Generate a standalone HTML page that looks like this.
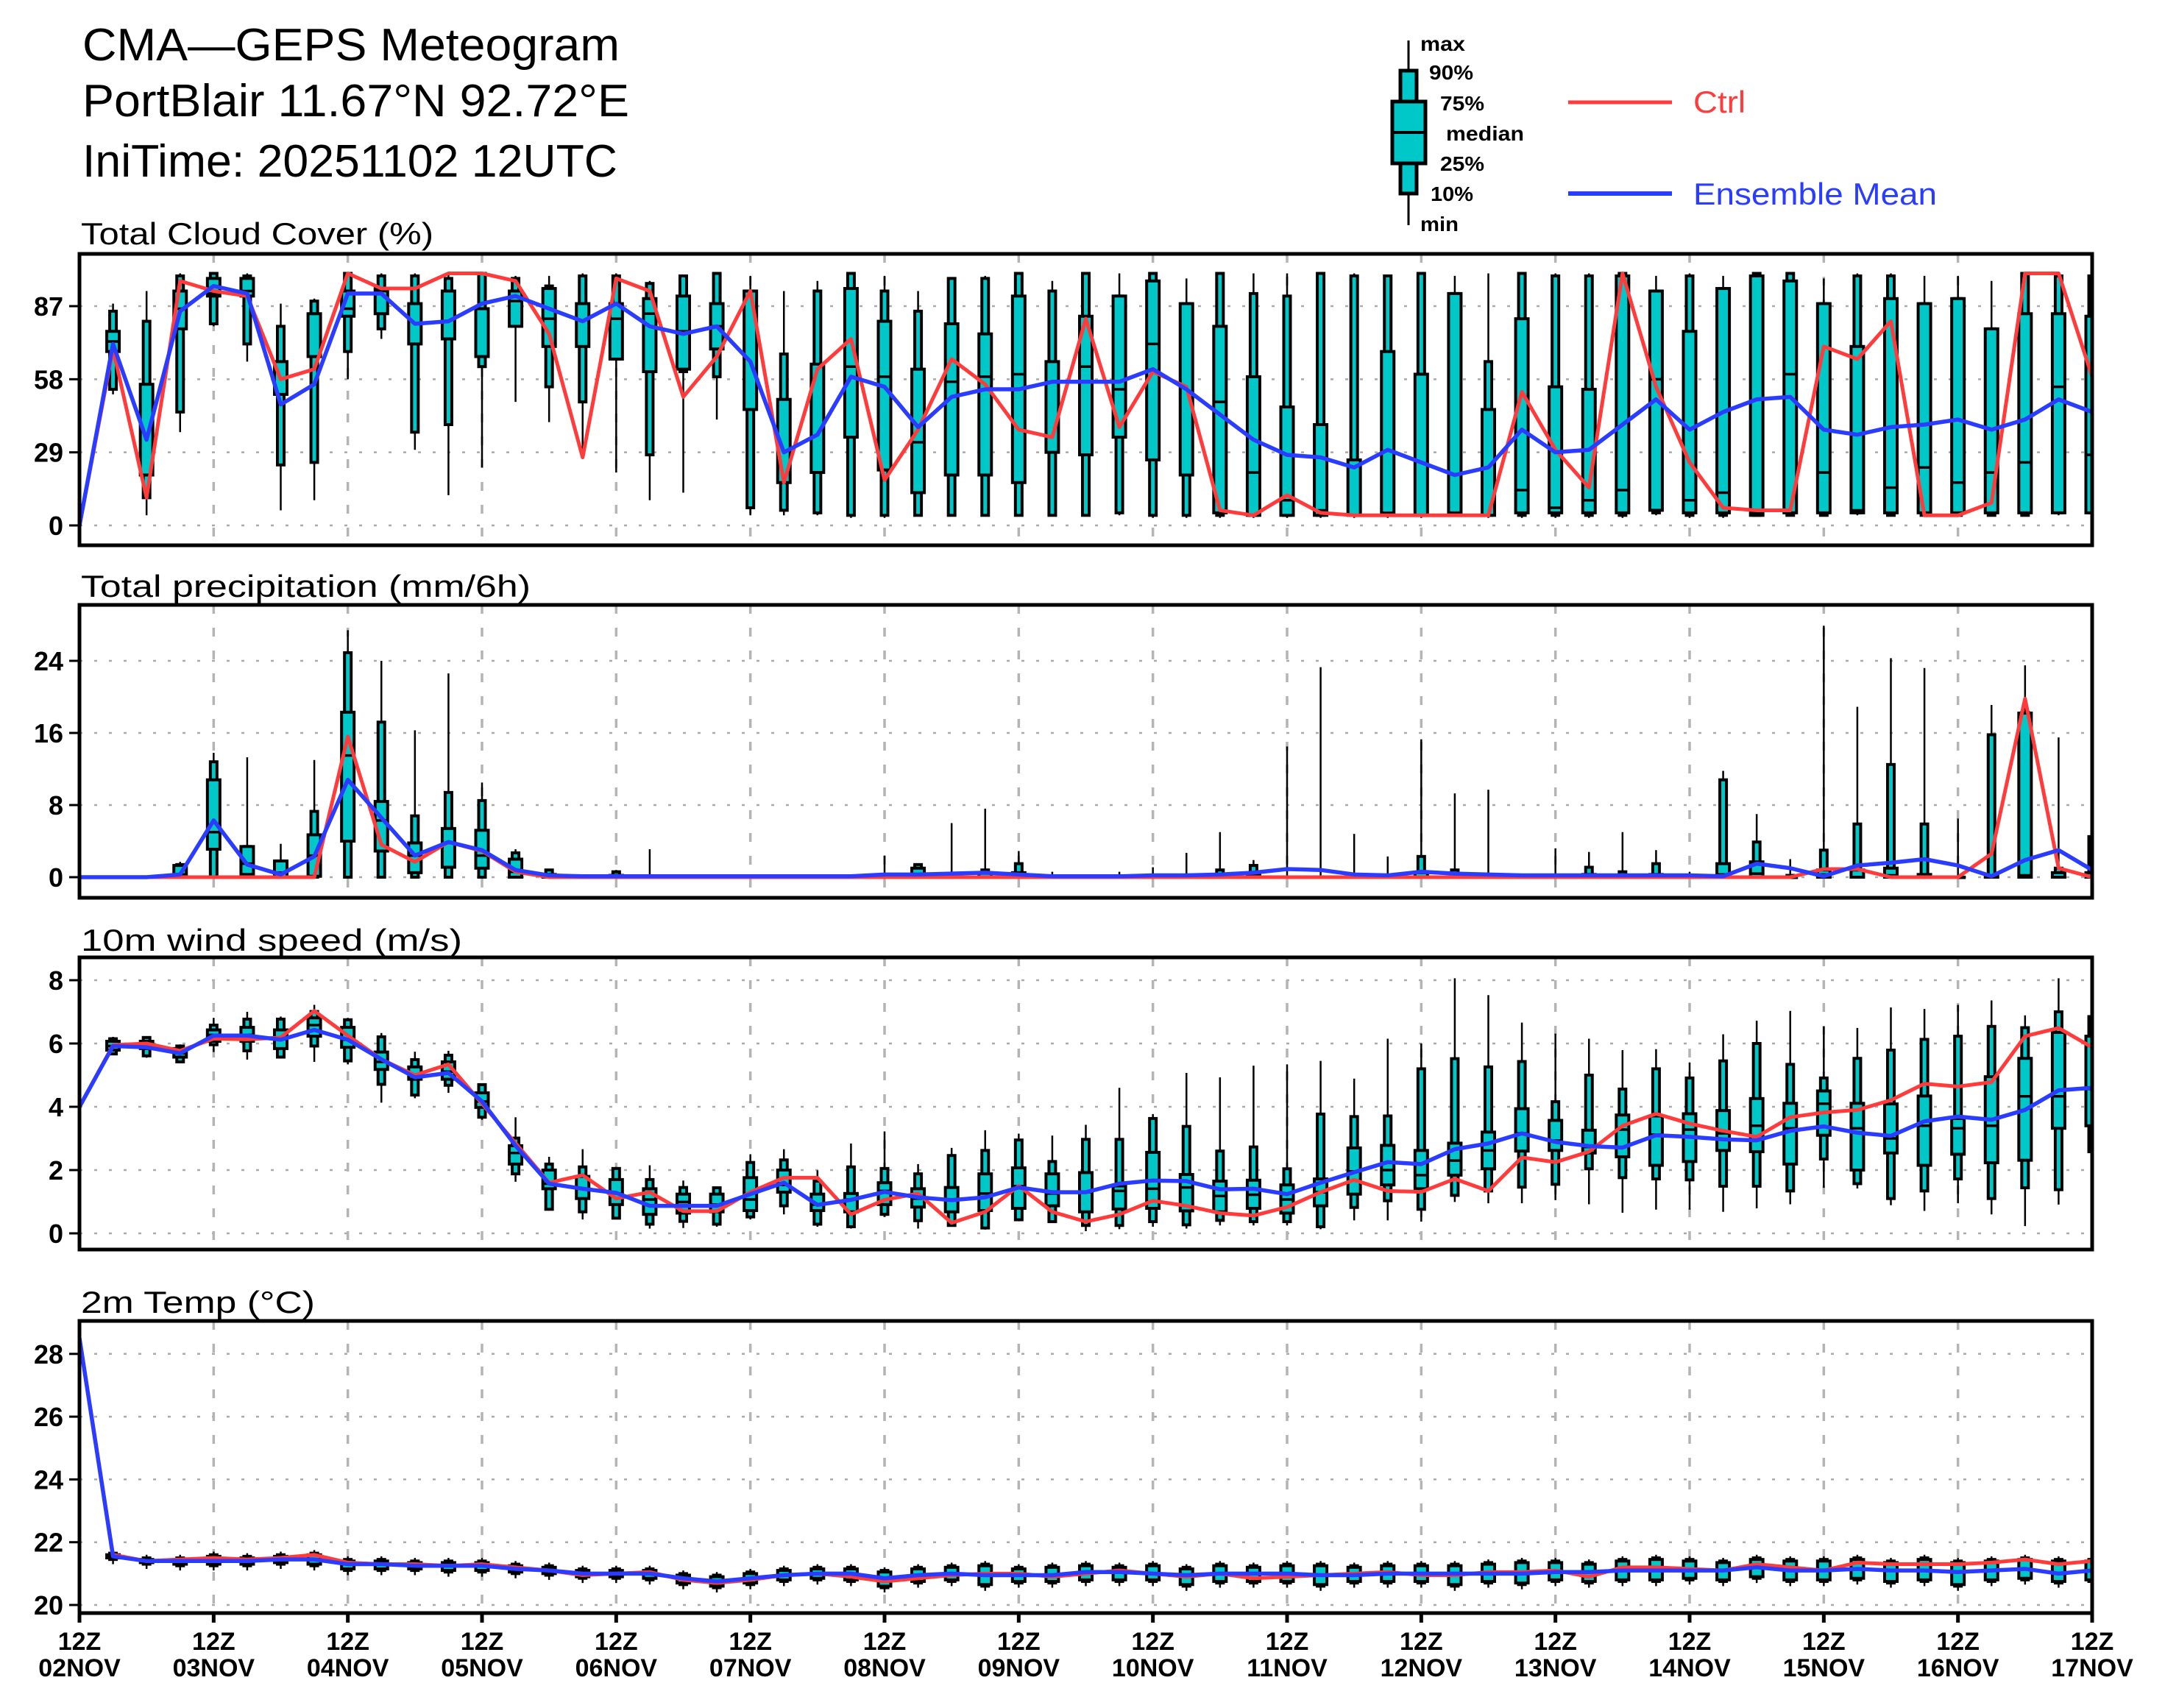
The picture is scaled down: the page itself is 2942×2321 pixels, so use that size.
<!DOCTYPE html>
<html><head><meta charset="utf-8">
<style>
html,body{margin:0;padding:0;background:#fff;}
svg{display:block;font-family:"Liberation Sans",sans-serif;}
.tk{font-weight:bold;font-size:36px;text-anchor:end;}
.xl{font-weight:bold;font-size:34px;text-anchor:middle;}
</style></head><body>
<svg id="chart" width="2942" height="2321" viewBox="0 0 2942 2321" xmlns="http://www.w3.org/2000/svg">
<rect x="0" y="0" width="2942" height="2321" fill="#fff"/>
<g>
<text x="112" y="82" font-size="62" textLength="730" lengthAdjust="spacingAndGlyphs">CMA—GEPS Meteogram</text>
<text x="112" y="158" font-size="62" textLength="743" lengthAdjust="spacingAndGlyphs">PortBlair 11.67°N 92.72°E</text>
<text x="112" y="240" font-size="62" textLength="727" lengthAdjust="spacingAndGlyphs">IniTime: 20251102 12UTC</text>
</g>
<g>
<line x1="1914" y1="55" x2="1914" y2="306" stroke="#000" stroke-width="3"/>
<rect x="1903" y="96" width="22" height="167" fill="#00c8c8" stroke="#000" stroke-width="5"/>
<rect x="1892" y="138" width="45" height="84" fill="#00c8c8" stroke="#000" stroke-width="5"/>
<line x1="1892" y1="180" x2="1937" y2="180" stroke="#000" stroke-width="4"/>
<g font-weight="bold" font-size="28">
<text x="1930" y="69" textLength="61" lengthAdjust="spacingAndGlyphs">max</text>
<text x="1942" y="108" textLength="60" lengthAdjust="spacingAndGlyphs">90%</text>
<text x="1957" y="150" textLength="60" lengthAdjust="spacingAndGlyphs">75%</text>
<text x="1965" y="191" textLength="106" lengthAdjust="spacingAndGlyphs">median</text>
<text x="1957" y="232" textLength="60" lengthAdjust="spacingAndGlyphs">25%</text>
<text x="1944" y="273" textLength="58" lengthAdjust="spacingAndGlyphs">10%</text>
<text x="1930" y="314" textLength="52" lengthAdjust="spacingAndGlyphs">min</text>
</g>
<line x1="2131" y1="139" x2="2272" y2="139" stroke="#ff3b3b" stroke-width="5"/>
<text x="2301" y="153" font-size="42" fill="#ff3b3b" textLength="71" lengthAdjust="spacingAndGlyphs">Ctrl</text>
<line x1="2131" y1="263" x2="2272" y2="263" stroke="#2a3cff" stroke-width="6"/>
<text x="2301" y="278" font-size="42" fill="#2a3cff" textLength="331" lengthAdjust="spacingAndGlyphs">Ensemble Mean</text>
</g>
<g id="plots"></g>
</svg>
<script>
// ---------- data ----------
const dayLabels = ["02NOV","03NOV","04NOV","05NOV","06NOV","07NOV","08NOV","09NOV","10NOV","11NOV","12NOV","13NOV","14NOV","15NOV","16NOV","17NOV"];
const cloudTicks = [0,29,58,87];
const precipTicks = [0,8,16,24];
const windTicks = [0,2,4,6,8];
const tempTicks = [20,22,24,26,28];

const cloudCtrl = [0,70,11,97,93,91,58,62,100,94,94,100,100,97,76,27,98,93,51,67,93,17,62,74,18,38,66,56,38,35,82,39,61,55,6,4,12,5,4,4,4,4,4,53,30,15,100,55,25,7,6,6,71,66,81,4,4,9,100,100,59];
const cloudMean = [0,72,34,85,95,92,48,56,92,92,80,81,88,91,86,81,88,79,76,79,65,29,36,59,55,39,51,54,54,57,57,57,62,54,44,34,28,27,23,30,25,20,23,38,29,30,40,50,38,45,50,51,38,36,39,40,42,38,42,50,45];
const cloudBox = [[0,0,0,0,0,0,0],[52,54,69,73,77,85,88],[4,11,20,20,56,81,93],[37,45,78,86,93,99,100],[79,80,91,92,98,100,100],[65,72,91,93,98,99,100],[6,24,52,52,65,79,88],[10,25,67,67,84,89,90],[58,69,83,86,93,100,100],[74,78,84,93,94,99,100],[30,37,72,88,88,99,100],[12,40,74,93,93,98,100],[23,63,67,86,86,100,100],[49,79,79,89,93,98,99],[41,55,71,82,94,95,99],[27,49,71,88,88,99,100],[21,66,66,82,88,99,100],[10,28,61,84,90,96,97],[13,61,62,77,91,99,99],[42,59,70,79,88,100,100],[4,7,46,46,93,93,99],[4,6,17,17,50,68,93],[4,5,21,21,64,93,97],[3,4,35,63,94,100,100],[3,4,22,59,81,93,99],[4,4,13,33,62,85,93],[4,4,20,57,80,98,98],[4,4,20,59,76,98,99],[4,4,17,60,91,100,100],[4,4,29,65,65,93,97],[4,4,28,63,83,100,100],[4,5,35,54,91,91,100],[3,4,26,72,97,100,100],[3,4,20,20,88,88,98],[3,4,5,49,79,100,100],[3,4,4,21,59,92,100],[3,4,4,10,47,91,100],[3,4,4,6,40,100,100],[3,4,4,26,26,99,100],[3,4,4,5,69,99,99],[3,4,4,4,60,100,100],[4,4,5,5,92,92,99],[3,4,4,4,46,65,100],[3,4,5,14,82,100,100],[3,4,5,7,55,99,100],[3,4,5,10,54,99,100],[3,4,5,14,99,100,100],[4,5,6,58,93,93,99],[3,4,5,10,77,99,100],[3,4,5,13,94,94,99],[4,4,4,5,99,100,100],[4,4,5,60,97,100,100],[4,4,5,21,88,88,98],[4,5,5,6,71,99,100],[4,4,5,15,90,99,100],[4,4,5,23,88,88,99],[4,4,5,17,90,90,99],[4,4,5,21,78,78,97],[4,4,5,25,84,100,100],[4,5,5,55,84,99,100],[4,5,5,28,83,99,99]];

const precipCtrl = [0,0,0,0,0,0,0,0,15.6,3.6,1.7,3.9,2.9,0.6,0,0,0,0,0,0,0,0,0,0,0,0,0,0,0,0,0,0,0,0,0,0,0,0,0,0,0,0,0,0,0,0,0,0,0,0,0,0,0.9,0.9,0,0,0,2.6,19.8,1,0];
const precipMean = [0,0,0,0.3,6.3,1.4,0.3,2.3,10.8,6.6,2.4,3.9,3,0.8,0.2,0.1,0.1,0.1,0.1,0.1,0.1,0.1,0.1,0.1,0.3,0.3,0.4,0.5,0.3,0.1,0.1,0.1,0.2,0.2,0.3,0.5,0.9,0.8,0.3,0.2,0.6,0.4,0.3,0.2,0.2,0.2,0.2,0.2,0.2,0.1,1.5,1,0.1,1.3,1.6,2,1.3,0.1,1.9,3,0.8];
const precipBox = [[0,0,0,0,0,0,0],[0,0,0,0,0,0,0],[0,0,0,0,0,0,0],[0,0,0,0.3,1.3,1.4,1.7],[0,0,3.1,5,10.8,12.8,13.8],[0,0,0.3,1.5,3.4,3.4,13.3],[0,0,0,0.5,1.8,1.8,3.7],[0,0,0.1,2.4,4.7,7.3,13],[0,0,4,13.5,18.3,24.9,27.4],[0,0,2.9,6.3,8.4,17.2,24],[0,0,0.5,2.4,3.8,6.8,16.3],[0,0,1.1,3.8,5.4,9.4,22.6],[0,0,1,2.4,5.2,8.5,10.5],[0,0,0,0.6,2,2.7,3.1],[0,0,0,0,0.3,0.8,0.8],[0,0,0,0,0,0,0],[0,0,0,0,0.2,0.6,0.8],[0,0,0,0,0,0,3.1],[0,0,0,0,0,0,0],[0,0,0,0,0,0,0],[0,0,0,0,0,0,0],[0,0,0,0,0,0,0],[0,0,0,0,0,0,0],[0,0,0,0,0,0,0],[0,0,0,0,0,0,2.4],[0,0,0,0,1,1.4,1.4],[0,0,0,0,0,0.3,6],[0,0,0,0,0.5,0.8,7.6],[0,0,0,0,0.5,1.5,2.9],[0,0,0,0,0,0,0.6],[0,0,0,0,0,0,0],[0,0,0,0,0,0,0.6],[0,0,0,0,0,0,1.1],[0,0,0,0,0,0,2.7],[0,0,0,0,0,0.8,5],[0,0,0,0,0.3,1.3,1.9],[0,0,0,0,0,0,14.5],[0,0,0,0,0,0,23.3],[0,0,0,0,0,0,4.8],[0,0,0,0,0,0,2.3],[0,0,0,0,0.5,2.3,15.3],[0,0,0,0,0,0.8,9.3],[0,0,0,0,0,0,9.7],[0,0,0,0,0,0,0],[0,0,0,0,0,0,3.2],[0,0,0,0,0.3,1.1,2.8],[0,0,0,0,0,0.6,5],[0,0,0,0,0.3,1.5,3],[0,0,0,0,0,0,0.6],[0,0,0,0.3,1.5,10.8,11.8],[0,0,0,0.4,1.7,3.9,7],[0,0,0,0,0,0.2,2],[0,0,0,0.3,0.8,3,27.9],[0,0,0,0,0.8,5.9,18.9],[0,0,0,0.2,1,12.5,24.3],[0,0,0,0,0.3,5.9,23.2],[0,0,0,0,0,0,6.5],[0,0,0,0,0.2,15.8,19.1],[0,0,0,0.2,18.2,18.3,23.5],[0,0,0,0,0.5,1,15.5],[0,0,0,0,0.5,4.5,4.7]];

const windCtrl = [4.0,5.95,6.0,5.77,6.15,6.13,6.19,7.03,6.25,5.5,5.0,5.34,4.1,2.85,1.6,1.84,1.1,1.3,0.7,0.7,1.3,1.76,1.76,0.6,1.06,1.26,0.33,0.68,1.5,0.68,0.37,0.6,1.03,0.87,0.64,0.56,0.83,1.3,1.69,1.34,1.31,1.72,1.34,2.4,2.25,2.58,3.4,3.78,3.47,3.24,3.05,3.67,3.82,3.9,4.21,4.73,4.64,4.78,6.23,6.49,5.88];
const windMean = [4.0,5.92,5.88,5.69,6.25,6.25,6.12,6.43,6.12,5.5,4.93,5.07,4.17,2.77,1.57,1.41,1.28,0.87,0.87,0.87,1.24,1.6,0.9,1.06,1.31,1.14,1.05,1.14,1.45,1.3,1.3,1.57,1.67,1.65,1.39,1.41,1.24,1.6,1.93,2.25,2.19,2.66,2.84,3.16,2.89,2.76,2.71,3.1,3.05,2.97,2.94,3.24,3.38,3.18,3.08,3.54,3.69,3.59,3.9,4.52,4.6];
const windBox = [[4,4,4,4,4,4,4],[5.63,5.67,5.79,5.92,6.07,6.15,6.21],[5.55,5.61,5.84,5.92,6.07,6.19,6.23],[5.38,5.42,5.57,5.69,5.84,5.92,5.97],[5.73,5.96,6.07,6.27,6.43,6.58,6.81],[5.49,5.77,6.07,6.27,6.51,6.77,7.0],[5.55,5.57,5.84,6.19,6.43,6.77,6.85],[5.42,5.92,6.23,6.58,6.81,7.01,7.22],[5.34,5.45,5.88,6.12,6.51,6.75,6.81],[4.13,4.71,5.18,5.42,5.73,6.21,6.33],[4.27,4.37,4.87,4.99,5.26,5.49,5.74],[4.44,4.68,4.87,5.11,5.42,5.63,5.77],[3.59,3.67,3.98,4.17,4.44,4.70,4.73],[1.63,1.88,2.19,2.54,2.77,3.01,3.67],[0.72,0.76,1.41,1.57,2.0,2.19,2.42],[0.44,0.68,1.10,1.41,1.80,2.1,2.66],[0.44,0.48,0.91,1.26,1.70,2.05,2.1],[0.15,0.29,0.6,1.07,1.41,1.70,2.15],[0.17,0.38,0.64,0.99,1.24,1.45,1.67],[0.21,0.29,0.68,0.91,1.24,1.44,1.45],[0.44,0.52,0.72,1.07,1.76,2.24,2.5],[0.6,0.87,1.30,1.53,2.0,2.32,2.66],[0.21,0.29,0.72,0.91,1.24,1.65,1.99],[0.15,0.21,0.68,1.07,1.26,2.1,2.84],[0.52,0.6,0.91,1.34,1.6,2.05,3.22],[0.15,0.4,0.83,1.1,1.41,1.88,2.19],[0.21,0.25,0.68,1.07,1.45,2.46,2.7],[0.12,0.17,0.72,1.26,1.88,2.62,3.26],[0.38,0.43,0.79,1.49,2.07,2.95,3.15],[0.33,0.37,0.87,1.26,1.88,2.27,3.09],[0.07,0.25,0.68,1.3,1.92,2.97,3.43],[0.13,0.25,0.77,1.34,1.5,2.97,4.6],[0.21,0.37,0.79,1.41,2.56,3.63,3.77],[0.15,0.27,0.71,1.45,1.86,3.38,5.07],[0.25,0.41,0.68,1.18,1.65,2.6,4.93],[0.25,0.37,0.79,1.22,1.68,2.73,5.3],[0.25,0.37,0.64,1.07,1.53,2.04,5.34],[0.13,0.21,0.87,1.30,1.72,3.77,5.45],[0.41,0.82,1.24,1.96,2.7,3.69,4.89],[0.41,1.03,1.53,2.0,2.78,3.71,6.15],[0.37,0.76,1.41,1.84,2.62,5.2,6.0],[0.99,1.2,1.84,2.3,2.85,5.52,8.06],[0.95,1.34,2.04,2.62,3.2,5.26,7.53],[0.95,1.46,2.6,3.16,3.94,5.43,6.66],[1.05,1.55,2.62,2.93,3.57,4.16,6.31],[0.92,2.04,2.54,2.73,3.26,5.0,6.15],[0.65,1.76,2.42,3.28,3.74,4.56,5.79],[0.75,1.72,2.15,3.12,3.71,5.2,5.82],[0.75,1.69,2.27,3.28,3.78,4.91,5.4],[0.68,1.49,2.62,3.16,3.88,5.45,6.29],[0.79,1.49,2.58,3.4,4.26,6.0,6.72],[0.92,1.34,2.19,3.32,4.11,5.34,7.03],[1.44,2.35,3.1,4.1,4.5,4.91,6.54],[1.42,1.57,2.0,3.32,4.11,5.53,6.49],[0.89,1.1,2.54,3.0,4.09,5.79,7.14],[0.71,1.34,2.15,3.4,4.34,6.13,7.09],[0.95,1.72,2.5,3.32,3.63,6.23,7.22],[0.6,1.1,2.23,3.4,4.95,6.54,7.36],[0.23,1.44,2.31,4.33,5.53,6.5,6.89],[0.91,1.38,3.32,4.33,6.35,7.0,8.06],[2.54,2.58,3.4,4.56,6.23,6.85,6.85]];

const tempCtrl = [28.5,21.6,21.4,21.45,21.5,21.45,21.5,21.6,21.35,21.3,21.3,21.25,21.3,21.2,21.1,20.95,21.0,21.05,20.8,20.7,20.8,20.95,21.0,20.9,20.75,20.85,20.95,21.0,21.0,20.9,21.0,21.1,21.0,20.9,21.0,20.85,20.9,20.95,21.0,21.05,20.95,20.95,21.05,21.05,21.1,20.9,21.2,21.2,21.15,21.1,21.3,21.2,21.1,21.35,21.3,21.3,21.3,21.35,21.45,21.3,21.4];
const tempMean = [28.5,21.55,21.4,21.4,21.4,21.4,21.45,21.45,21.3,21.3,21.25,21.25,21.25,21.15,21.1,21.0,21.0,21.0,20.85,20.75,20.85,20.95,21.0,21.0,20.85,20.95,21.0,20.95,20.95,20.95,21.05,21.05,21.0,20.95,21.0,21.0,21.0,20.95,20.95,21.0,21.0,21.0,21.0,21.0,21.05,21.05,21.1,21.1,21.1,21.1,21.2,21.1,21.1,21.15,21.1,21.1,21.05,21.1,21.15,21.0,21.1];
const tempBoxLow = [28.5,21.45,21.3,21.25,21.25,21.25,21.3,21.25,21.1,21.1,21.1,21.05,21.05,21.0,20.95,20.85,20.85,20.8,20.65,20.55,20.65,20.75,20.8,20.75,20.55,20.7,20.75,20.6,20.7,20.7,20.75,20.75,20.75,20.6,20.7,20.7,20.7,20.6,20.7,20.7,20.7,20.6,20.7,20.65,20.75,20.7,20.75,20.75,20.8,20.75,20.85,20.75,20.75,20.8,20.7,20.75,20.6,20.75,20.8,20.7,20.75];
const tempBoxHigh = [28.5,21.65,21.5,21.5,21.6,21.55,21.6,21.65,21.45,21.45,21.4,21.4,21.4,21.3,21.25,21.15,21.15,21.15,21.0,20.95,21.05,21.15,21.2,21.2,21.1,21.2,21.25,21.3,21.2,21.25,21.3,21.25,21.3,21.2,21.3,21.25,21.3,21.3,21.25,21.3,21.3,21.3,21.35,21.4,21.4,21.35,21.45,21.5,21.45,21.4,21.5,21.45,21.45,21.5,21.4,21.5,21.4,21.45,21.5,21.45,21.45];

// ---------- layout ----------
const NS = "http://www.w3.org/2000/svg";
const X0 = 108, X1 = 2843, NSTEP = 60;
const xs = i => X0 + (X1 - X0) * i / NSTEP;
const panels = [
  {name:"cloud", title:"Total Cloud Cover (%)", titleY:332, titleW:479, top:345, bot:741, y:v=>714-v*3.425, ticks:cloudTicks, box:cloudBox, ctrl:cloudCtrl, mean:cloudMean},
  {name:"precip", title:"Total precipitation (mm/6h)", titleY:811, titleW:611, top:822, bot:1220, y:v=>1192-v*12.25, ticks:precipTicks, box:precipBox, ctrl:precipCtrl, mean:precipMean},
  {name:"wind", title:"10m wind speed (m/s)", titleY:1292, titleW:518, top:1301, bot:1698, y:v=>1676-v*43, ticks:windTicks, box:windBox, ctrl:windCtrl, mean:windMean},
  {name:"temp", title:"2m Temp (°C)", titleY:1784, titleW:318, top:1795, bot:2192, y:v=>2181-(v-20)*42.65, ticks:tempTicks, box:null, ctrl:tempCtrl, mean:tempMean}
];
function mk(tag, attrs, parent){const e=document.createElementNS(NS,tag);for(const k in attrs)e.setAttribute(k,attrs[k]);parent.appendChild(e);return e;}
const root = document.getElementById("plots");
const defs = mk("defs",{},root);

function drawBox(g, i, b, y){
  const x = xs(i);
  const bg = mk("g",{},g);
  
  
  mk("line",{x1:x,y1:y(b[0]),x2:x,y2:y(b[6]),stroke:"#000","stroke-width":2.5},bg);
  mk("rect",{x:x-4.5,y:y(b[5]),width:9,height:Math.max(0.5,y(b[1])-y(b[5])),fill:"#00c8c8",stroke:"#000","stroke-width":4},bg);
  mk("rect",{x:x-8.5,y:y(b[4]),width:17,height:Math.max(0.5,y(b[2])-y(b[4])),fill:"#00c8c8",stroke:"#000","stroke-width":4},bg);
  mk("line",{x1:x-8.5,y1:y(b[3]),x2:x+8.5,y2:y(b[3]),stroke:"#000","stroke-width":3.5},bg);
}

panels.forEach((p,pi)=>{
  const g = mk("g",{},root);
  
  
  const t = mk("text",{x:110,y:p.titleY,"font-size":42,textLength:p.titleW,lengthAdjust:"spacingAndGlyphs"},g);
  t.textContent = p.title;
  
  
  const cp = mk("clipPath",{id:"clip"+pi},defs);
  mk("rect",{x:X0,y:p.top,width:X1-X0,height:p.bot-p.top},cp);
  p.ticks.forEach(v=>{
    const yy = p.y(v);
    const gl = mk("line",{x1:X0,y1:yy,x2:X1,y2:yy,stroke:"#aaa","stroke-width":2.5,"stroke-dasharray":"4 16"},g);
    
    
    mk("line",{x1:X0-14,y1:yy,x2:X0,y2:yy,stroke:"#000","stroke-width":3},g);
    const tl = mk("text",{x:86,y:yy+13,class:"tk"},g);
    tl.textContent = v;
    
    
  });
  dayLabels.forEach((d,k)=>{
    const x = xs(k*4);
    if(k>0 && k<dayLabels.length-1){
      const vl = mk("line",{x1:x,y1:p.top,x2:x,y2:p.bot,stroke:"#b4b4b4","stroke-width":3.5,"stroke-dasharray":"12 19"},g);
      
      
    }
  });
  const data = mk("g",{"clip-path":"url(#clip"+pi+")"},g);
  if(p.box){
    p.box.forEach((b,i)=>{ if(i>0 && b[6]>0) drawBox(data,i,b,p.y); });
  } else {
    tempBoxLow.forEach((lo,i)=>{
      if(i===0) return;
      drawBox(data,i,[lo-0.15,lo,lo+0.05,tempMean[i],tempBoxHigh[i]-0.05,tempBoxHigh[i],tempBoxHigh[i]+0.1],p.y);
    });
  }
  const ptsC = p.ctrl.map((v,i)=>xs(i)+","+p.y(v)).join(" ");
  const lc = mk("polyline",{points:ptsC,fill:"none",stroke:"#ff3b3b","stroke-width":5,"stroke-linejoin":"round"},data);
  
  
  const ptsM = p.mean.map((v,i)=>xs(i)+","+p.y(v)).join(" ");
  const lm = mk("polyline",{points:ptsM,fill:"none",stroke:"#2a3cff","stroke-width":5.5,"stroke-linejoin":"round"},data);
  
  
  const fr = mk("rect",{x:X0,y:p.top,width:X1-X0,height:p.bot-p.top,fill:"none",stroke:"#000","stroke-width":5},g);
  
  
});

const xg = mk("g",{},root);


dayLabels.forEach((d,k)=>{
  const x = xs(k*4);
  mk("line",{x1:x,y1:2192,x2:x,y2:2205,stroke:"#000","stroke-width":5},xg);
  const a = mk("text",{x:x,y:2242,class:"xl"},xg);
  a.textContent = "12Z";
  
  
  const b = mk("text",{x:x,y:2278,class:"xl"},xg);
  b.textContent = d;
  
  
});
</script>
</body></html>
